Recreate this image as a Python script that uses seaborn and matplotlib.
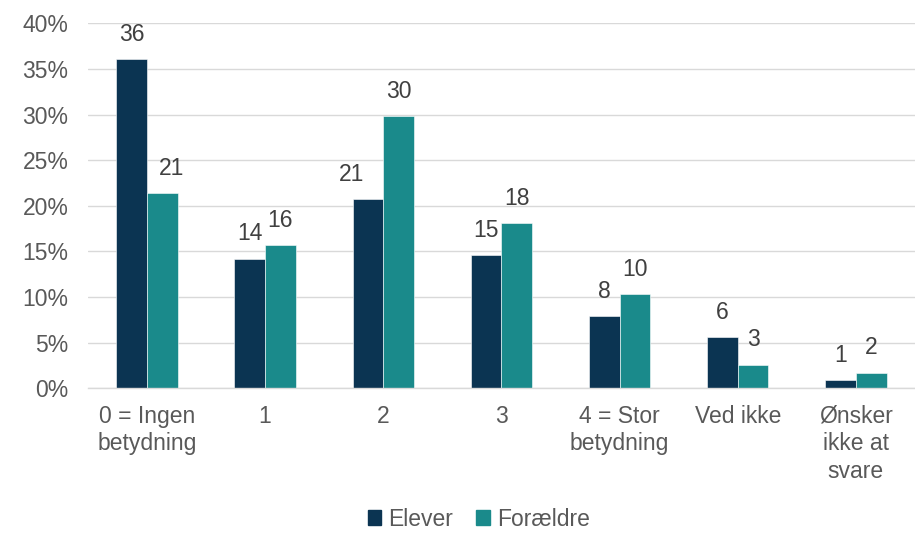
import pandas as pd
import seaborn as sns
import matplotlib.pyplot as plt
from matplotlib.ticker import PercentFormatter

# data
kategorier = ['0 = Ingen\nbetydning', '1', '2', '3', '4 = Stor\nbetydning', 'Ved ikke', 'Ønsker\nikke at\nsvare']
elever = [36.1, 14.2, 20.7, 14.6, 7.9, 5.6, 0.9]
foraeldre = [21.4, 15.7, 29.8, 18.1, 10.3, 2.6, 1.7]
serier = ['Elever', 'Forældre']
farver = ['#0B3452', '#1A8A8B']

df = pd.DataFrame({
    'kategori': kategorier * 2,
    'andel': elever + foraeldre,
    'gruppe': [serier[0]] * len(kategorier) + [serier[1]] * len(kategorier),
})

sns.set_theme(style='white')
plt.rcParams['font.family'] = ['Liberation Sans', 'DejaVu Sans']
fs = 16.5

fig = plt.figure(figsize=(9.15, 5.33), dpi=100)
ax = fig.add_axes([0.096, 0.2715, 0.904, 0.6845])

sns.barplot(data=df, x='kategori', y='andel', hue='gruppe', palette=farver,
            width=0.52, saturation=1, ax=ax, legend=True,
            edgecolor='white', linewidth=0.4)

ax.set_ylim(0, 40)
ax.set_xlim(-0.5, len(kategorier) - 0.5)
ax.set_yticks(range(0, 41, 5))
ax.yaxis.set_major_formatter(PercentFormatter(decimals=0))
ax.set_xlabel('')
ax.set_ylabel('')
ax.grid(axis='y', color='#d9d9d9', linewidth=1.0)
ax.set_axisbelow(True)
for s in ['top', 'right', 'left']:
    ax.spines[s].set_visible(False)
ax.spines['bottom'].set_color('#d9d9d9')
ax.spines['bottom'].set_linewidth(1.0)
ax.tick_params(axis='y', length=0, pad=14, labelsize=fs, labelcolor='#595959')
ax.tick_params(axis='x', length=0, pad=12, labelsize=fs, labelcolor='#595959')
for t in ax.get_xticklabels():
    t.set_linespacing(1.25)

# dataetiketter (nogle er flyttet lidt sideværts som i originalen)
flyt = {(1, 0): 6.5, (0, 2): -12}
for i, cont in enumerate(ax.containers):
    for j, bar in enumerate(cont):
        h = bar.get_height()
        ax.annotate(f'{h:.0f}', (bar.get_x() + bar.get_width() / 2, h),
                    xytext=(flyt.get((i, j), 0), 18), textcoords='offset points',
                    ha='center', va='center', fontsize=fs, color='#404040')

ax.get_legend().remove()
handles = [plt.Rectangle((0, 0), 1, 1, color=c) for c in farver]
fig.legend(handles, serier, loc='center', bbox_to_anchor=(0.523, 0.026),
           ncol=2, frameon=False, fontsize=fs, labelcolor='#595959',
           handlelength=0.6, handleheight=0.6, handletextpad=0.3,
           columnspacing=1.0, borderaxespad=0, borderpad=0.1)

fig.savefig('out.png', dpi=100)
